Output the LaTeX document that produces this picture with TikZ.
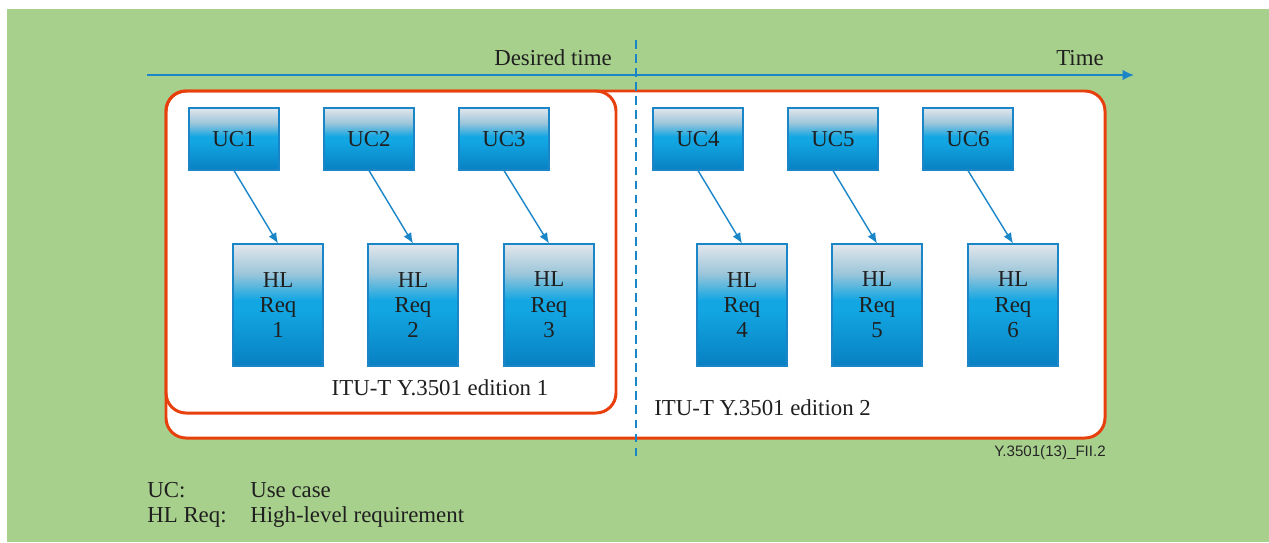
\documentclass[tikz,border=0pt]{standalone}
\usepackage{fontspec}
\setmainfont{Liberation Serif}
\setsansfont{Liberation Sans}
\usetikzlibrary{arrows.meta}
\definecolor{bggreen}{HTML}{A8D08D}
\definecolor{lineblue}{HTML}{1A86C8}
\definecolor{frameorange}{HTML}{E8400C}
\definecolor{boxtop}{HTML}{E2E6EC}
\definecolor{boxlight}{HTML}{9CC6DA}
\definecolor{boxmid}{HTML}{12A6E2}
\definecolor{boxbot}{HTML}{0880C2}
\pgfdeclareverticalshading{boxshade}{100bp}{color(0bp)=(boxbot); color(25bp)=(boxbot); color(48bp)=(boxmid); color(52bp)=(boxmid); color(63bp)=(boxlight); color(75bp)=(boxtop); color(100bp)=(boxtop)}
\tikzset{
  ucbox/.style={draw=lineblue,line width=0.6pt,shading=boxshade,
    minimum width=1.8cm,minimum height=1.24cm,inner sep=0pt,font=\fontsize{13}{14.5}\selectfont,text=black!88},
  hlbox/.style={ucbox,minimum height=2.44cm,align=center},
  frame/.style={draw=frameorange,line width=1.7pt,rounded corners=0.4cm},
  txt/.style={font=\fontsize{13}{14.5}\selectfont,inner sep=0pt,text=black!88},
  link/.style={-{Latex[length=6pt,width=5pt]},lineblue,line width=0.8pt}
}
\begin{document}
\begin{tikzpicture}[x=0.02cm,y=-0.02cm]
		\useasboundingbox (0,0) rectangle (1269,542);
		\fill[bggreen] (7,9) rectangle (1269,542);

		% time axis
		\coordinate (t0) at (147,75);
		\coordinate (t1) at (1134,75);
		\draw[-{Latex[length=6.5pt,width=6pt]},lineblue,line width=1pt] (t0) -- (t1);
		\node[txt,anchor=east] (desired) at (612,58) {Desired time};
		\node[txt] (time) at (1080,58) {Time};

		% editions
		\draw[frame,fill=white] (166,91) rectangle (1105,438);
		\draw[frame] (166,91) rectangle (616,413);
		\coordinate (d0) at (636,40);
		\coordinate (d1) at (636,458);
		\draw[lineblue,line width=0.8pt,dash pattern=on 5pt off 3pt] (d0) -- (d1);

		% use cases
		\node[ucbox] (uc1) at (234,139) {UC1};
		\node[ucbox] (uc2) at (369,139) {UC2};
		\node[ucbox] (uc3) at (504,139) {UC3};
		\node[ucbox] (uc4) at (698,139) {UC4};
		\node[ucbox] (uc5) at (833,139) {UC5};
		\node[ucbox] (uc6) at (968,139) {UC6};

		% high-level requirements
		\node[hlbox] (hl1) at (278,305) {HL\\Req\\1};
		\node[hlbox] (hl2) at (413,305) {HL\\Req\\2};
		\node[hlbox] (hl3) at (549,305) {HL\\Req\\3};
		\node[hlbox] (hl4) at (742,305) {HL\\Req\\4};
		\node[hlbox] (hl5) at (877,305) {HL\\Req\\5};
		\node[hlbox] (hl6) at (1013,305) {HL\\Req\\6};

		\draw[link] (uc1.south) -- (hl1.north);
		\draw[link] (uc2.south) -- (hl2.north);
		\draw[link] (uc3.south) -- (hl3.north);
		\draw[link] (uc4.south) -- (hl4.north);
		\draw[link] (uc5.south) -- (hl5.north);
		\draw[link] (uc6.south) -- (hl6.north);

		\node[txt] (ed1) at (440,388) {ITU-T Y.3501 edition 1};
		\node[txt,anchor=west] (ed2) at (654,408) {ITU-T Y.3501 edition 2};
		\node[font=\sffamily\fontsize{8.6}{9}\selectfont,inner sep=0pt,text=black!85] (fig) at (1050,453) {Y.3501(13)\_FII.2};

		% legend
		\node[txt,anchor=west] (lucc) at (147,490) {UC:};
		\node[txt,anchor=west] (lucd) at (250,490) {Use case};
		\node[txt,anchor=west] (lhlc) at (147,517) {HL Req:};
		\node[txt,anchor=west] (lhld) at (250,517) {High-level requirement};
	\end{tikzpicture}
\end{document}
